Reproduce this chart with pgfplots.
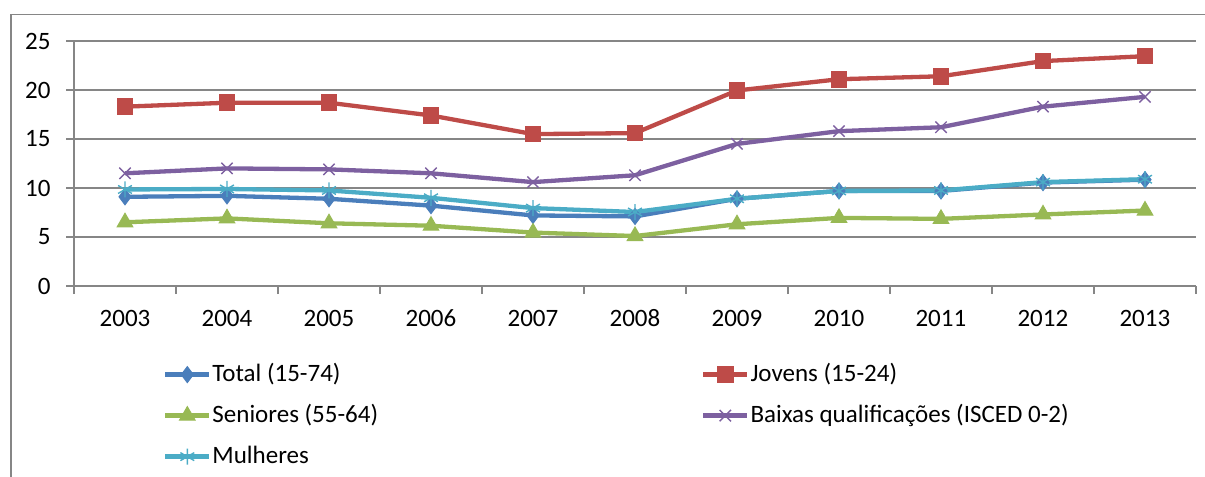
\documentclass[border=0pt]{standalone}
\usepackage{fontspec}
\setmainfont{Carlito}
\usepackage{pgfplots}
\usepackage{pgfplotstable}
\pgfplotsset{compat=1.18}
\definecolor{cTot}{RGB}{74,126,187}
\definecolor{cJov}{RGB}{190,75,72}
\definecolor{cSen}{RGB}{152,185,84}
\definecolor{cBai}{RGB}{125,96,160}
\definecolor{cMul}{RGB}{75,172,198}
\definecolor{framegray}{RGB}{134,134,134}

\pgfplotstableread{
year total jovens seniores baixas mulheres
2003 9.1 18.3 6.5 11.5 9.85
2004 9.2 18.7 6.9 12.0 9.9
2005 8.9 18.7 6.4 11.9 9.75
2006 8.2 17.4 6.15 11.5 9.0
2007 7.2 15.5 5.45 10.6 7.95
2008 7.1 15.6 5.1 11.3 7.55
2009 8.9 19.95 6.3 14.5 8.9
2010 9.7 21.1 6.95 15.8 9.7
2011 9.7 21.4 6.85 16.2 9.75
2012 10.55 22.95 7.3 18.3 10.6
2013 10.85 23.45 7.7 19.3 10.9
}\datatable

\begin{document}
\begin{tikzpicture}
\useasboundingbox (0bp,0bp) rectangle (1205bp,477bp);
\draw[framegray, line width=1.5bp] (11bp,0bp) -- (11bp,462.3bp) -- (1205bp,462.3bp);
\begin{axis}[
  at={(74bp,191bp)}, anchor=south west,
  scale only axis, width=1122bp, height=245bp,
  xmin=2002.5, xmax=2013.5, ymin=0, ymax=25,
  xtick={2003,...,2013}, ytick={0,5,...,25},
  minor xtick={2002.5,2003.5,...,2013.5},
  axis x line*=bottom, axis y line*=left,
  axis line style={framegray, line width=1.5bp, -},
  tick align=outside,
  major tick length=8bp, minor tick length=8bp,
  major x tick style={draw=none},
  minor x tick style={framegray, line width=1.5bp},
  major y tick style={framegray, line width=1.5bp},
  ymajorgrids, grid style={framegray, line width=1.5bp},
  /pgf/number format/.cd, 1000 sep={}, assume math mode=true, /pgfplots/.cd,
  tick label style={font=\fontsize{25bp}{30bp}\selectfont, black},
  xticklabel style={text height=16bp, text depth=0bp, yshift=-13bp},
  yticklabel style={xshift=-12bp},
  legend columns=2,
  legend cell align=left,
  legend style={draw=none, fill=none, inner sep=0pt,
    at={(0.0793,-0.314)}, anchor=north west,
    font=\fontsize{25bp}{30bp}\selectfont,
    nodes={inner sep=0pt, text height=18bp, text depth=5bp},
    column sep=1bp, row sep=18bp,
    /tikz/every even column/.append style={column sep=323bp}},
  legend image code/.code={
    \draw[mark repeat=2, mark phase=2, #1] plot coordinates {(0bp,0bp) (22bp,0bp) (44bp,0bp)};},
  every axis plot/.append style={line width=4.3bp},
]
\addplot[cTot, mark=diamond*, mark size=8bp, mark options={solid, fill=cTot, line width=1bp}] table[x=year, y=total] {\datatable};
\addlegendentry{Total (15-74)}
\addplot[cJov, mark=square*, mark size=7.8bp, mark options={solid, fill=cJov, line width=1bp}] table[x=year, y=jovens] {\datatable};
\addlegendentry{Jovens (15-24)}
\addplot[cSen, mark=triangle*, mark size=9bp, mark options={solid, fill=cSen, line width=1bp}] table[x=year, y=seniores] {\datatable};
\addlegendentry{Seniores (55-64)}
\addplot[cBai, mark=x, mark size=8bp, mark options={solid, line width=1.4bp}] table[x=year, y=baixas] {\datatable};
\addlegendentry{Baixas qualificações (ISCED 0-2)}
\addplot[cMul, mark=asterisk, mark size=8bp, mark options={solid, line width=1.4bp}] table[x=year, y=mulheres] {\datatable};
\addlegendentry{Mulheres}
\end{axis}
\end{tikzpicture}
\end{document}
